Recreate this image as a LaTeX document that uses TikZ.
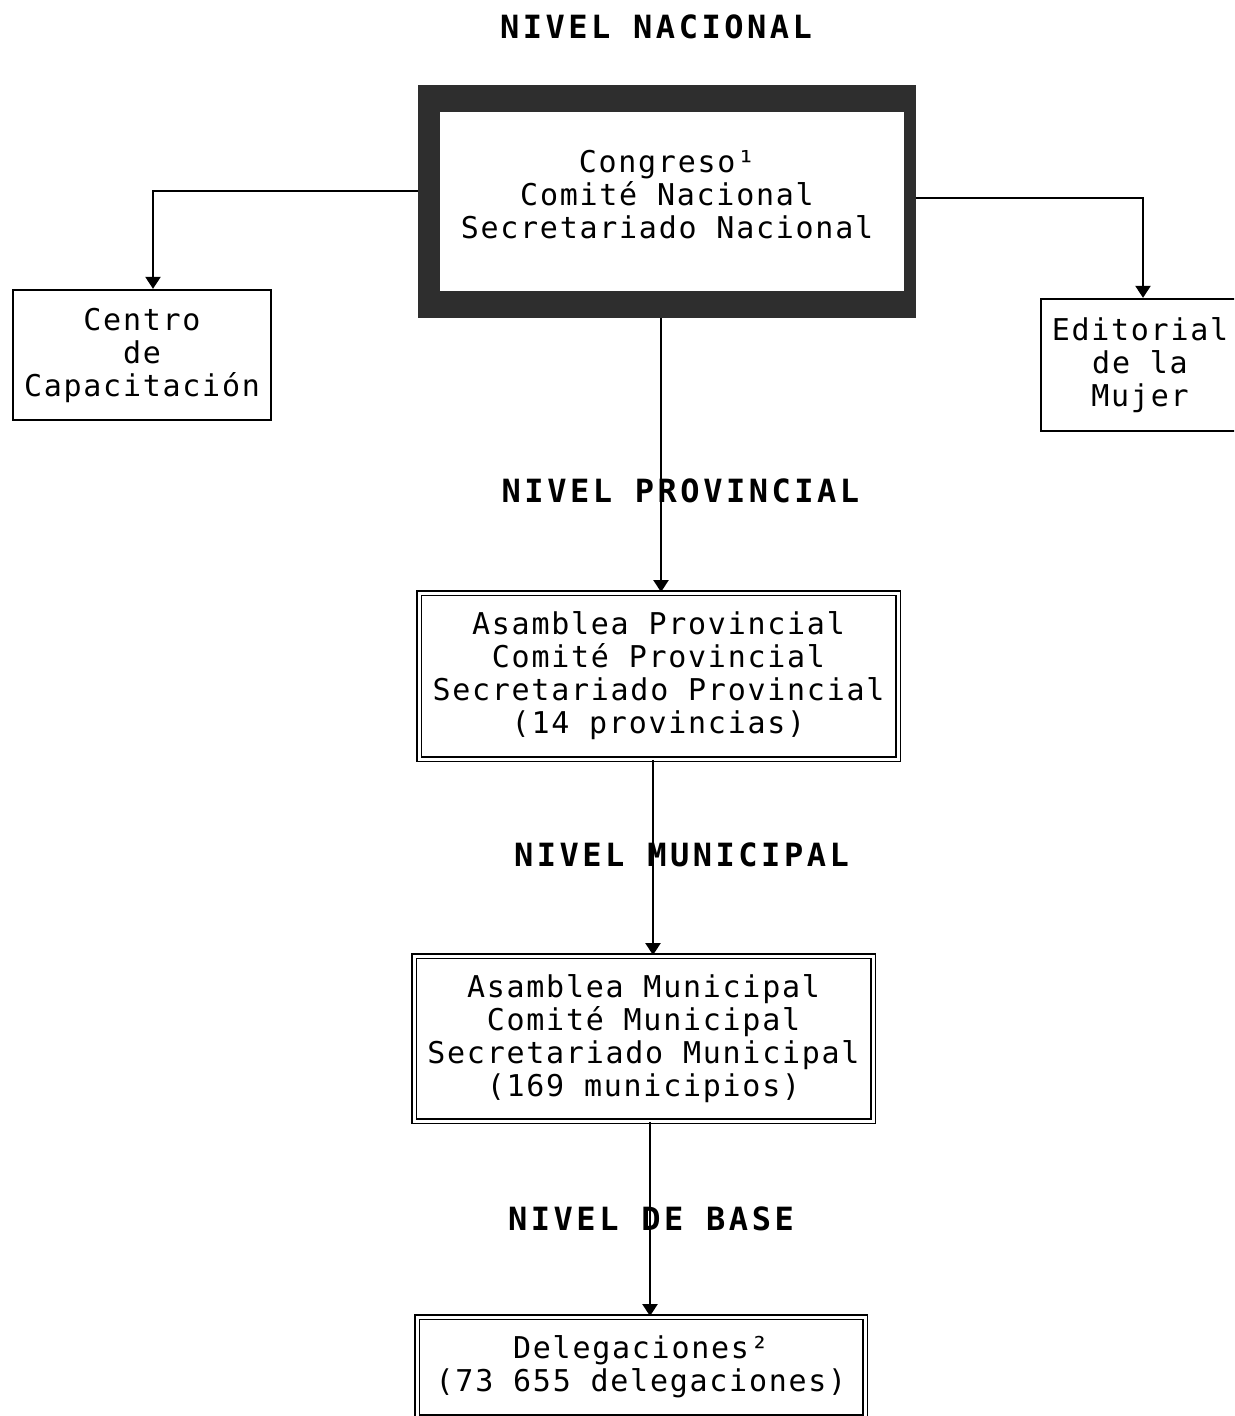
\documentclass[tikz,border=0pt]{standalone}
\usepackage{fontspec}
\usetikzlibrary{arrows.meta}
\newfontfamily\bodyf[LetterSpace=5.8]{DejaVu Sans Mono}
\newfontfamily\titlef[LetterSpace=11]{DejaVu Sans Mono}
\tikzset{
  bodytxt/.style={font=\bodyf\fontsize{30}{33}\selectfont, align=center, inner sep=0pt},
  titletxt/.style={font=\titlef\bfseries\fontsize{32}{36}\selectfont, inner sep=0pt},
  sbox/.style={draw, line width=2.3pt, fill=white, inner sep=0pt, bodytxt},
  dbox/.style={draw, double, double distance=3pt, line width=1.9pt, inner sep=0pt, bodytxt},
  conn/.style={line width=2.3pt},
  arr/.style={conn, -{Triangle[width=15pt,length=12pt]}}
}
\begin{document}
\begin{tikzpicture}[x=1pt, y=-1pt]
\useasboundingbox (0,0) rectangle (1234,1416);
\clip (0,0) rectangle (1234,1416);
\fill[white] (0,0) rectangle (1234,1416);

% titles
\node[titletxt] (tnac) at (656,27) {NIVEL NACIONAL};

% top box (thick dark frame)
\node[fill=black!82, inner sep=0pt, minimum width=498pt, minimum height=233pt] (nac) at (667,201.5) {};
\node[fill=white, inner sep=0pt, minimum width=464pt, minimum height=179pt] (nacin) at (672,201.5) {};
\node[bodytxt] (nactxt) at (667,195) {Congreso¹\\Comité Nacional\\Secretariado Nacional};

% side boxes
\node[sbox, minimum width=258pt, minimum height=130pt] (centro) at (142,355) {Centro\\de\\Capacitación};
\node[sbox, minimum width=198pt, minimum height=132pt] (edit) at (1140,365) {Editorial\\de la\\Mujer};

% level boxes
\node[dbox, minimum width=479pt, minimum height=166pt] (prov) at (658.5,676)
  {Asamblea Provincial\\Comité Provincial\\Secretariado Provincial\\(14 provincias)};
\node[dbox, minimum width=459pt, minimum height=165pt] (muni) at (643.5,1038.5)
  {Asamblea Municipal\\Comité Municipal\\Secretariado Municipal\\(169 municipios)};
\node[dbox, minimum width=448pt, minimum height=100pt] (deleg) at (641,1367)
  {Delegaciones²\\(73 655 delegaciones)};

% connector turning points / columns
\coordinate (lturn) at (153,191);
\coordinate (rturn) at (1143,198);
\coordinate (a1) at (661,0);
\coordinate (a2) at (653,0);
\coordinate (a3) at (650,0);

\draw[arr] (nac.west |- lturn) -- (lturn) -- (lturn |- centro.north);
\draw[arr] (nac.east |- rturn) -- (rturn) -- (rturn |- edit.north);
\draw[arr] (nac.south -| a1) -- (prov.north -| a1);
\draw[arr] (prov.south -| a2) -- (muni.north -| a2);
\draw[arr] (muni.south -| a3) -- (deleg.north -| a3);

% level titles (over the connectors)
\node[titletxt] (tprov) at (680.5,491) {NIVEL PROVINCIAL};
\node[titletxt] (tmuni) at (681.5,855) {NIVEL MUNICIPAL};
\node[titletxt] (tbase) at (651,1219) {NIVEL DE BASE};
\end{tikzpicture}
\end{document}
